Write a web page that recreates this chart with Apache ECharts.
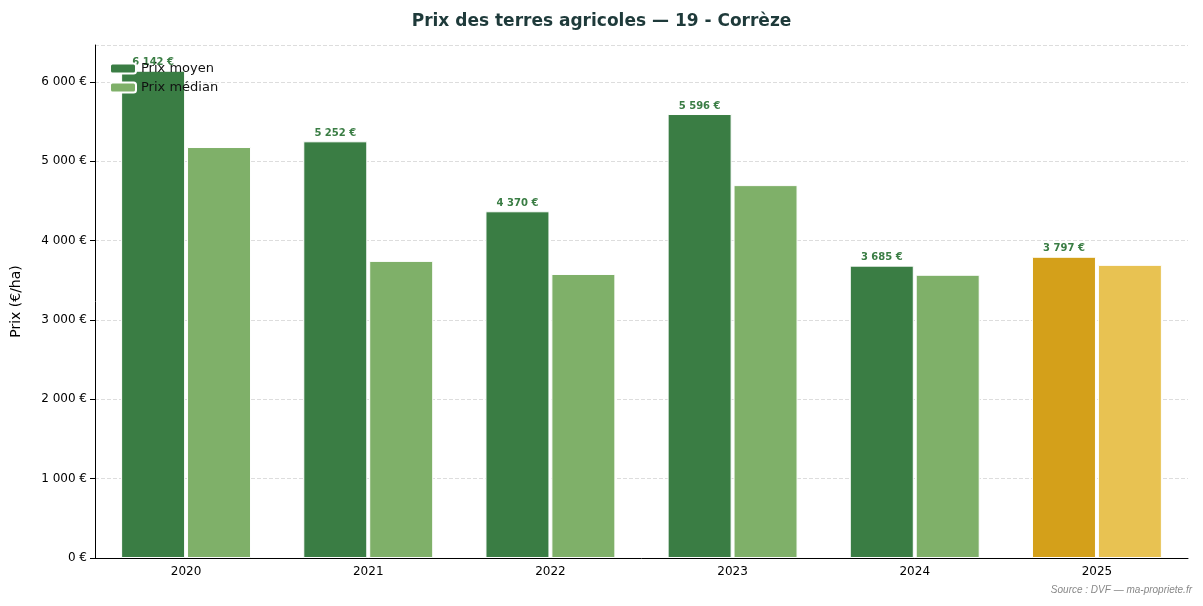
<!DOCTYPE html>
<html><head><meta charset="utf-8">
<script src="https://cdn.jsdelivr.net/npm/echarts@6/dist/echarts.min.js"></script>
<style>html,body{margin:0;padding:0;background:#fff}#c{width:1203px;height:606px}</style>
</head><body><div id="c"></div>
<script>
var annees = ['2020', '2021', '2022', '2023', '2024', '2025'];
var prixMoyen = [6142, 5252, 4370, 5596, 3685, 3797];
var prixMedian = [5180, 3745, 3580, 4700, 3570, 3695];

function fmt(v) {
    return String(v).replace(/\B(?=(\d{3})+(?!\d))/g, ' ') + ' €';
}

var chart = echarts.init(document.getElementById('c'));
chart.setOption({
    animation: false,
    textStyle: { fontFamily: 'DejaVu Sans' },
    title: {
        text: 'Prix des terres agricoles — 19 - Corrèze',
        left: 'center', top: 8,
        textStyle: { fontSize: 17, fontWeight: 'bold', color: '#1e3a3a' }
    },
    legend: {
        left: 104, top: 57, orient: 'vertical', itemGap: 6,
        itemWidth: 26, itemHeight: 10,
        textStyle: { fontSize: 13, color: '#111' },
        data: ['Prix moyen', 'Prix médian']
    },
    grid: { left: 95, right: 15, top: 45, bottom: 48 },
    xAxis: {
        type: 'category', data: annees,
        axisLine: { lineStyle: { color: '#000' } },
        axisTick: { alignWithLabel: true, lineStyle: { color: '#000' } },
        axisLabel: { color: '#000', fontSize: 12 }
    },
    yAxis: {
        type: 'value', min: 0, max: 6466, interval: 1000,
        name: 'Prix (€/ha)', nameLocation: 'middle', nameGap: 72,
        nameTextStyle: { fontSize: 14, color: '#000' },
        axisLine: { show: true, lineStyle: { color: '#000' } },
        axisTick: { show: true, lineStyle: { color: '#000' } },
        axisLabel: { color: '#000', fontSize: 12, showMaxLabel: false, formatter: fmt },
        splitLine: { lineStyle: { color: '#ddd', type: 'dashed' } }
    },
    series: [
        {
            name: 'Prix moyen', type: 'bar', barWidth: 64, barGap: '3%',
            itemStyle: { color: '#3a7d44', borderColor: '#fff', borderWidth: 1 },
            data: prixMoyen.map(function (v, i) {
                return i === 5 ? { value: v, itemStyle: { color: '#d4a01a' } } : v;
            }),
            label: {
                show: true, position: 'top', distance: 3, color: '#3a7d44',
                fontSize: 10, fontWeight: 'bold',
                formatter: function (p) { return fmt(p.value); }
            }
        },
        {
            name: 'Prix médian', type: 'bar', barWidth: 64,
            itemStyle: { color: '#7fb069', borderColor: '#fff', borderWidth: 1 },
            data: prixMedian.map(function (v, i) {
                return i === 5 ? { value: v, itemStyle: { color: '#e8c252' } } : v;
            })
        }
    ],
    graphic: [{
        type: 'text', right: 11, bottom: 11,
        style: { text: 'Source : DVF — ma-propriete.fr', fill: '#888', fontSize: 10, fontStyle: 'italic' }
    }]
});
</script></body></html>
